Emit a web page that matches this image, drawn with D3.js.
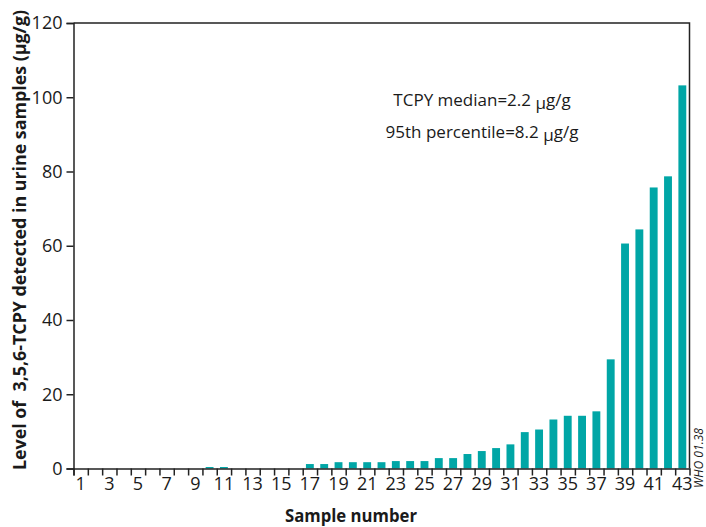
<!DOCTYPE html>
<html>
<head>
<meta charset="utf-8">
<script src="https://cdn.jsdelivr.net/npm/d3@7"></script>
<style>
  html, body { margin: 0; padding: 0; background: #fff; }
  svg { display: block; }
  text { font-family: "Open Sans", "DejaVu Sans", sans-serif; fill: #1a1a1a; }
</style>
</head>
<body>
<svg id="chart" width="706" height="527"></svg>
<script>
// ---- data ----
const samples = d3.range(1, 44); // sample numbers 1..43
const levels = [
  0, 0, 0, 0, 0, 0, 0, 0, 0, 0.4,
  0.4, 0, 0, 0, 0, 0, 1.2, 1.2, 1.7, 1.7,
  1.7, 1.7, 2.0, 2.0, 2.0, 2.8, 2.8, 3.9, 4.7, 5.5,
  6.5, 9.8, 10.5, 13.2, 14.2, 14.2, 15.4, 29.4, 60.6, 64.4,
  75.7, 78.7, 103.2
];
const xTickLabels = d3.range(1, 44, 2);
const yTickValues = [0, 20, 40, 60, 80, 100, 120];
const annotations = ["TCPY median=2.2 ", "95th percentile=8.2 "];
const unitMu = "\u03bc";
const unitRest = "g/g";

const svg = d3.select("#chart");
const mLeft = 73.5, mRight = 689.5, mTop = 23, mBottom = 468.5;

const x = d3.scaleBand().domain(samples).range([mLeft, mRight])
  .paddingInner(0.45).paddingOuter(0.225);
const xEdge = d3.scaleLinear().domain([0, samples.length]).range([mLeft, mRight]);
const y = d3.scaleLinear().domain([0, 120]).range([mBottom, mTop]);

// bars
svg.append("g").selectAll("rect").data(samples).join("rect")
  .attr("x", d => x(d))
  .attr("width", x.bandwidth())
  .attr("y", (d, i) => y(levels[i]))
  .attr("height", (d, i) => y(0) - y(levels[i]))
  .attr("fill", "#00a6a6");

// frame (top & right)
svg.append("path")
  .attr("d", `M${mLeft},${mTop}H${mRight}V${mBottom}`)
  .attr("fill", "none").attr("stroke", "#222").attr("stroke-width", 1.5);

// y axis
const yAxis = svg.append("g").attr("transform", `translate(${mLeft},0)`)
  .call(d3.axisLeft(y).tickValues(yTickValues).tickSize(7).tickPadding(4));
yAxis.select(".domain").attr("stroke", "#222").attr("stroke-width", 1.5);
yAxis.selectAll(".tick line").attr("stroke", "#222").attr("stroke-width", 1.5);
yAxis.selectAll(".tick text").style("font-size", "18px").attr("fill", "#1a1a1a")
  .style("font-family", '"Open Sans", sans-serif');

// x axis tick marks at band boundaries
const xTicks = svg.append("g").attr("transform", `translate(0,${mBottom})`)
  .call(d3.axisBottom(xEdge).tickValues(d3.range(0, samples.length)).tickSize(7).tickFormat(""));
xTicks.select(".domain").attr("stroke", "#222").attr("stroke-width", 1.5);
xTicks.selectAll(".tick line").attr("stroke", "#222").attr("stroke-width", 1.5);

// x axis labels
const xLab = svg.append("g").attr("transform", `translate(0,${mBottom})`)
  .call(d3.axisBottom(x).tickValues(xTickLabels).tickSize(0).tickPadding(9));
xLab.select(".domain").remove();
xLab.selectAll(".tick text").style("font-size", "18px").attr("fill", "#1a1a1a")
  .style("font-family", '"Open Sans", sans-serif');

// axis titles
svg.append("text")
  .attr("x", 351).attr("y", 522)
  .attr("text-anchor", "middle")
  .attr("textLength", 132).attr("lengthAdjust", "spacingAndGlyphs")
  .style("font-size", "18px").style("font-weight", "bold")
  .text("Sample number");

svg.append("text")
  .attr("transform", "translate(26,240) rotate(-90)")
  .attr("text-anchor", "middle")
  .attr("textLength", 460).attr("lengthAdjust", "spacingAndGlyphs")
  .style("font-size", "18px").style("font-weight", "bold")
  .style("white-space", "pre")
  .text("Level of  3,5,6-TCPY detected in urine samples (\u03bcg/g)");

// annotation
annotations.forEach((t, i) => {
  const tx = svg.append("text")
    .attr("x", 482).attr("y", 106 + i * 32)
    .attr("text-anchor", "middle")
    .style("font-size", "17px");
  tx.append("tspan").text(t);
  tx.append("tspan").attr("dy", 3).text(unitMu);
  tx.append("tspan").attr("dy", -3).text(unitRest);
});

// code
svg.append("text")
  .attr("transform", "translate(703,488) rotate(-90)")
  .attr("text-anchor", "start")
  .attr("textLength", 60).attr("lengthAdjust", "spacingAndGlyphs")
  .style("font-size", "12.5px").style("font-style", "italic")
  .attr("fill", "#333")
  .text("WHO 01.38");
</script>
</body>
</html>
